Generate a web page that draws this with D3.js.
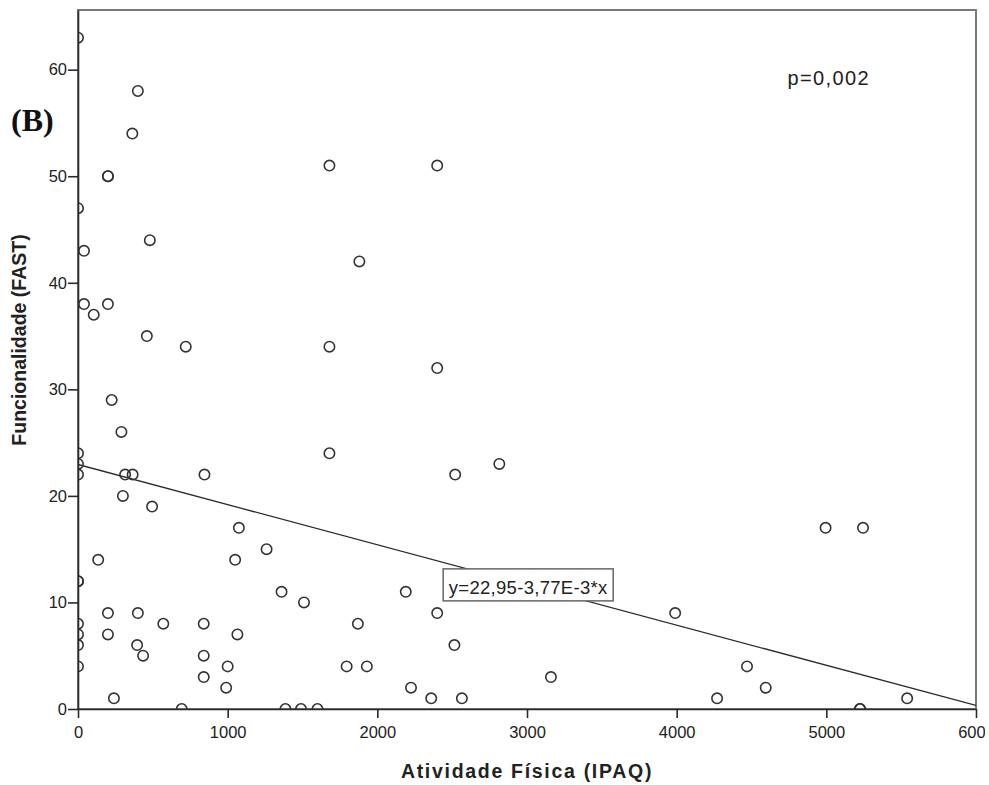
<!DOCTYPE html>
<html>
<head>
<meta charset="utf-8">
<script src="https://cdn.jsdelivr.net/npm/d3@7"></script>
<style>
  body { margin: 0; background: #fff; }
  svg { display: block; overflow: hidden; }
  .tick text { font-family: Arial, "Liberation Sans", sans-serif; font-size: 16.5px; fill: #222; }
</style>
</head>
<body>
<div class="chart"></div>
<script>

// IPAQ (x) and FAST (y), one entry per subject
const ipaq = [0, 400, 363, 200, 200, 0, 480, 40, 1680, 2400, 1880, 40, 105, 200, 460, 720, 1680, 2400,
  225, 290, 0, 0, 0, 1680, 2815, 315, 365, 845, 2520, 300, 495, 1075, 4995, 5245, 1260, 135, 1050,
  0, 0, 1360, 2190, 1510, 200, 400, 2400, 3990, 0, 570, 840, 1870, 0, 200, 1065, 0, 395, 2515,
  435, 840, 0, 1000, 1795, 1930, 4470, 840, 3160, 990, 2225, 4595, 240, 2360, 2565, 4270, 5540,
  693, 1386, 1490, 1600, 5225, 5225];
const fast = [63, 58, 54, 50, 50, 47, 44, 43, 51, 51, 42, 38, 37, 38, 35, 34, 34, 32,
  29, 26, 24, 23, 22, 24, 23, 22, 22, 22, 22, 20, 19, 17, 17, 17, 15, 14, 14,
  12, 12, 11, 11, 10, 9, 9, 9, 9, 8, 8, 8, 8, 7, 7, 7, 6, 6, 6,
  5, 5, 4, 4, 4, 4, 4, 3, 3, 2, 2, 2, 1, 1, 1, 1, 1,
  0, 0, 0, 0, 0, 0];

const xTicks = [0, 1000, 2000, 3000, 4000, 5000, 6000];
const yTicks = [0, 10, 20, 30, 40, 50, 60];

// fit line y = a + b*x
const intercept = 22.95;
const slope = -3.77e-3;
const fitLabel = 'y=22,95-3,77E-3*x';
const pLabel = 'p=0,002';

const points = ipaq.map((d, i) => ({x: d, y: fast[i]}));

const pLeft = 78, pRight = 976, pTop = 10, pBottom = 709;

const svg = d3.select('.chart')
.append('svg')
.attr('width', 985)
.attr('height', 785);

let x = d3.scaleLinear().domain([0, 6000]).range([pLeft, pRight]);
let y = d3.scaleLinear().domain([0, 65.6]).range([pBottom, pTop]);

svg.append('defs').append('clipPath')
.attr('id', 'plot-clip')
.append('rect')
.attr('x', pLeft)
.attr('y', pTop)
.attr('width', pRight - pLeft)
.attr('height', pBottom - pTop);

// frame
svg.append('rect')
.attr('x', pLeft)
.attr('y', pTop)
.attr('width', pRight - pLeft)
.attr('height', pBottom - pTop)
.attr('fill', 'none')
.attr('stroke', '#7a7a7a')
.attr('stroke-width', 2);

const plot = svg.append('g').attr('clip-path', 'url(#plot-clip)');

plot.append('line')
.attr('x1', x(0))
.attr('y1', y(intercept))
.attr('x2', x(6000))
.attr('y2', y(intercept + slope * 6000))
.attr('stroke', '#2a2a2a')
.attr('stroke-width', 1.3);

plot.selectAll('circle')
.data(points)
.enter()
.append('circle')
.attr('cx', d => x(d.x))
.attr('cy', d => y(d.y))
.attr('r', 5.2)
.attr('fill', 'none')
.attr('stroke', '#333')
.attr('stroke-width', 1.6);

// axes
const xAxis = svg.append('g')
.attr('transform', 'translate(0,' + pBottom + ')')
.call(d3.axisBottom(x).tickValues(xTicks).tickSize(9).tickSizeOuter(0).tickPadding(8).tickFormat(d3.format('d')));

const yAxis = svg.append('g')
.attr('transform', 'translate(' + pLeft + ',0)')
.call(d3.axisLeft(y).tickValues(yTicks).tickSize(10).tickSizeOuter(0).tickPadding(1).tickFormat(d3.format('d')));

[xAxis, yAxis].forEach(a => {
	a.select('.domain').attr('stroke', '#2a2a2a').attr('stroke-width', 1.6);
	a.selectAll('.tick line').attr('stroke', '#2a2a2a').attr('stroke-width', 1.6);
});

// fit label box
const lx = x(2440), ly = y(13.15);

const lab = svg.append('g');

lab.append('rect')
.attr('x', lx)
.attr('y', ly)
.attr('width', 170)
.attr('height', 32)
.attr('fill', '#fff')
.attr('stroke', '#666')
.attr('stroke-width', 1.5);

lab.append('text')
.attr('x', lx + 85)
.attr('y', ly + 25)
.attr('text-anchor', 'middle')
.attr('font-family', 'Arial, "Liberation Sans", sans-serif')
.attr('font-size', '18.5px')
.attr('letter-spacing', '0.3px')
.attr('fill', '#222')
.text(fitLabel);

svg.append('text')
.attr('x', x(4740))
.attr('y', y(58.6))
.attr('font-family', 'Arial, "Liberation Sans", sans-serif')
.attr('font-size', '20px')
.attr('letter-spacing', '1.4px')
.attr('fill', '#222')
.text(pLabel);

// titles
svg.append('text')
.attr('x', (pLeft + pRight) / 2)
.attr('y', 778)
.attr('text-anchor', 'middle')
.attr('font-family', 'Arial, "Liberation Sans", sans-serif')
.attr('font-weight', 'bold')
.attr('font-size', '19.5px')
.attr('letter-spacing', '1.7px')
.attr('fill', '#222')
.text('Atividade Física (IPAQ)');

svg.append('text')
.attr('transform', 'translate(26,340) rotate(-90)')
.attr('text-anchor', 'middle')
.attr('font-family', 'Arial, "Liberation Sans", sans-serif')
.attr('font-weight', 'bold')
.attr('font-size', '19.5px')
.attr('fill', '#222')
.text('Funcionalidade (FAST)');

svg.append('text')
.attr('x', 11)
.attr('y', 131)
.attr('font-family', '"Times New Roman", "Liberation Serif", serif')
.attr('font-weight', 'bold')
.attr('font-size', '32px')
.attr('fill', '#111')
.text('(B)');

</script>
</body>
</html>
